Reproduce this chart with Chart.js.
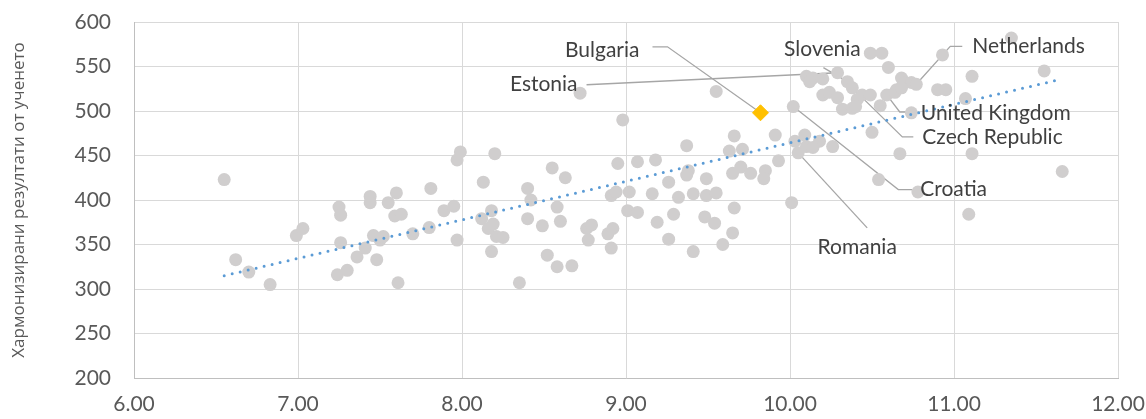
<!DOCTYPE html>
<html>
<head>
<meta charset="utf-8">
<script src="https://cdn.jsdelivr.net/npm/chart.js@4"></script>
<style>
    html, body { margin: 0; padding: 0; background: #ffffff; }
    #wrap { width: 1146px; height: 419px; position: relative; }
</style>
</head>
<body>
<div id="wrap"><canvas id="grafico"></canvas></div>
<script>
// точки (x = ос X, y = хармонизирани резултати)
const xValues = [
    6.55, 6.62, 6.70, 6.83, 6.99, 7.03, 7.25, 7.26, 7.26, 7.24,
    7.30, 7.36, 7.41, 7.44, 7.44, 7.46, 7.48, 7.50, 7.52, 7.55,
    7.60, 7.59, 7.63, 7.61, 7.70, 7.80, 7.81, 7.89, 7.95, 7.97,
    7.97, 7.99, 8.20, 8.13, 8.18, 8.12, 8.19, 8.16, 8.21, 8.25,
    8.18, 8.35, 8.40, 8.42, 8.40, 8.49, 8.55, 8.63, 8.58, 8.60,
    8.52, 8.58, 8.67, 8.76, 8.79, 8.77, 8.89, 8.92, 8.91, 8.91,
    8.94, 8.95, 9.02, 9.01, 9.07, 9.07, 8.98, 9.18, 9.16, 9.19,
    9.26, 9.32, 9.29, 9.26, 9.37, 9.38, 9.37, 9.41, 9.41, 9.49,
    9.49, 9.55, 9.48, 9.54, 9.59, 9.65, 9.66, 9.66, 9.63, 9.71,
    9.65, 9.70, 9.76, 9.85, 9.84, 9.93, 9.91, 10.01, 10.02, 10.03,
    10.05, 9.55, 8.72, 10.49, 10.56, 10.60, 10.29, 10.10, 10.14, 10.20,
    10.12, 10.35, 10.38, 10.20, 10.24, 10.29, 10.44, 10.49, 10.41, 10.32,
    10.38, 10.40, 10.55, 10.59, 10.68, 10.70, 10.74, 10.77, 10.65, 10.64,
    10.68, 10.90, 10.95, 10.93, 10.74, 11.35, 11.11, 11.55, 11.07, 11.11,
    11.66, 11.09, 10.78, 10.50, 10.67, 10.54, 10.09, 10.10, 10.18, 10.26,
    10.14
];
const yValues = [
    423, 333, 319, 305, 360, 368, 392, 383, 352, 316,
    321, 336, 346, 404, 397, 360, 333, 355, 359, 397,
    408, 382, 384, 307, 362, 369, 413, 388, 393, 355,
    445, 454, 452, 420, 388, 379, 373, 368, 359, 358,
    342, 307, 413, 400, 379, 371, 436, 425, 392, 376,
    338, 325, 326, 368, 372, 355, 362, 368, 346, 405,
    409, 441, 409, 388, 443, 386, 490, 445, 407, 375,
    420, 403, 384, 356, 461, 433, 428, 407, 342, 424,
    405, 408, 381, 374, 350, 363, 391, 472, 455, 457,
    430, 437, 430, 433, 424, 444, 473, 397, 505, 466,
    453, 522, 520, 565, 565, 549, 543, 539, 537, 536,
    533, 533, 526, 518, 521, 515, 518, 518, 513, 502,
    503, 505, 506, 518, 537, 532, 532, 530, 524, 521,
    526, 524, 524, 563, 498, 582, 539, 545, 514, 452,
    432, 384, 409, 476, 452, 423, 473, 460, 466, 460,
    459
];

// България (маркирана)
const bulgariaX = [9.82];
const bulgariaY = [498];

// линеен тренд (краища, отчетени от графиката)
const trendX = [6.55, 11.66];
const trendY = [315, 536];

// надписи: име на страната и индекс на точката
const labelNames = ["Estonia", "Slovenia", "Netherlands", "United Kingdom", "Czech Republic", "Croatia", "Romania"];
const labelIndex = [106, 111, 127, 123, 112, 98, 100];

const yTitle = "Хармонизирани резултати от ученето";

// разположение на надписите спрямо точката (px)
const labelLayout = {
    "Bulgaria":       { dx: -121, dy: -63, align: "right",  leader: [[-108, -66], [-93, -66]] },
    "Estonia":        { dx: -260, dy: 12,  align: "right",  leader: [[-251, 12]] },
    "Slovenia":       { dx: -25,  dy: -32, align: "center", leader: [[-24, -14]] },
    "Netherlands":    { dx: 56,   dy: -38, align: "left",   leader: [[46, -38], [34, -38]] },
    "United Kingdom": { dx: 34,   dy: 18,  align: "left",   leader: [[26, 17], [13, 17]] },
    "Czech Republic": { dx: 70,   dy: 49,  align: "left",   leader: [[61, 49], [50, 49]] },
    "Croatia":        { dx: 127,  dy: 83,  align: "left",   leader: [[119, 83], [105, 83]] },
    "Romania":        { dx: 59,   dy: 94,  align: "center", leader: [[69, 75]] }
};

const FONT = "Lato, 'Open Sans', sans-serif";

const puntos = xValues.map((x, i) => ({ x: x, y: yValues[i] }));
const bulgaria = bulgariaX.map((x, i) => ({ x: x, y: bulgariaY[i] }));
const tendencia = trendX.map((x, i) => ({ x: x, y: trendY[i] }));

function etiquetas() {
    const lista = [{ name: "Bulgaria", x: bulgariaX[0], y: bulgariaY[0] }];
    labelNames.forEach((n, i) => {
        lista.push({ name: n, x: xValues[labelIndex[i]], y: yValues[labelIndex[i]] });
    });
    return lista;
}

const pluginEtiquetas = {
    id: "etiquetas",
    beforeDatasetsDraw(chart) {
        const ctx = chart.ctx;
        const sx = chart.scales.x, sy = chart.scales.y;
        ctx.save();
        ctx.strokeStyle = "#A6A6A6";
        ctx.lineWidth = 1.3;
        for (const e of etiquetas()) {
            const lay = labelLayout[e.name];
            const px = sx.getPixelForValue(e.x), py = sy.getPixelForValue(e.y);
            ctx.beginPath();
            lay.leader.forEach((p, k) => {
                if (k === 0) ctx.moveTo(px + p[0], py + p[1]);
                else ctx.lineTo(px + p[0], py + p[1]);
            });
            ctx.lineTo(px, py);
            ctx.stroke();
        }
        ctx.restore();
    },
    afterDatasetsDraw(chart) {
        const ctx = chart.ctx;
        const sx = chart.scales.x, sy = chart.scales.y;
        ctx.save();
        ctx.fillStyle = "#404040";
        ctx.font = "21px " + FONT;
        ctx.textBaseline = "middle";
        for (const e of etiquetas()) {
            const lay = labelLayout[e.name];
            const px = sx.getPixelForValue(e.x), py = sy.getPixelForValue(e.y);
            ctx.textAlign = lay.align;
            ctx.fillText(e.name, px + lay.dx, py + lay.dy);
        }
        ctx.restore();
    }
};

document.addEventListener("DOMContentLoaded", function () {
    const ctx = document.getElementById("grafico").getContext("2d");
    new Chart(ctx, {
        type: "scatter",
        data: {
            datasets: [
                {
                    label: "Тренд",
                    data: tendencia,
                    showLine: true,
                    borderColor: "#5B9BD5",
                    borderWidth: 3,
                    borderDash: [0, 8.2],
                    borderCapStyle: "round",
                    pointRadius: 0,
                    order: 1
                },
                {
                    label: "Bulgaria",
                    data: bulgaria,
                    pointStyle: "rectRot",
                    pointRadius: 8,
                    backgroundColor: "#FFC000",
                    borderColor: "#FFC000",
                    borderWidth: 1,
                    order: 2
                },
                {
                    label: "Страни",
                    data: puntos,
                    pointRadius: 6.5,
                    backgroundColor: "#D0CECE",
                    borderColor: "#D0CECE",
                    borderWidth: 0,
                    order: 3
                }
            ]
        },
        options: {
            responsive: true,
            maintainAspectRatio: false,
            animation: false,
            layout: { padding: { top: 22, right: 28, left: 0, bottom: 0 } },
            plugins: {
                legend: { display: false },
                tooltip: { enabled: false }
            },
            scales: {
                x: {
                    type: "linear",
                    min: 6,
                    max: 12,
                    ticks: {
                        stepSize: 1,
                        padding: 14,
                        color: "#595959",
                        font: { family: FONT, size: 21 },
                        callback: (v) => Number(v).toFixed(2)
                    },
                    grid: { color: "#D9D9D9", lineWidth: 1, drawTicks: false },
                    border: { color: "#BFBFBF", width: 1 },
                    afterFit: (s) => {
                        s.height = 41;
                        s.paddingLeft = 0;
                        s.paddingRight = 0;
                    }
                },
                y: {
                    min: 200,
                    max: 600,
                    ticks: {
                        stepSize: 50,
                        padding: 23,
                        color: "#595959",
                        font: { family: FONT, size: 21 }
                    },
                    grid: { color: "#D9D9D9", lineWidth: 1, drawTicks: false },
                    border: { color: "#BFBFBF", width: 1 },
                    title: {
                        display: true,
                        text: yTitle,
                        color: "#595959",
                        font: { family: "'Open Sans', 'Noto Sans', sans-serif", size: 17 },
                        padding: { top: 9, bottom: 0 }
                    },
                    afterFit: (s) => {
                        s.width = 134;
                        s.paddingTop = 0;
                        s.paddingBottom = 0;
                    }
                }
            }
        },
        plugins: [pluginEtiquetas]
    });
});
</script>
</body>
</html>
